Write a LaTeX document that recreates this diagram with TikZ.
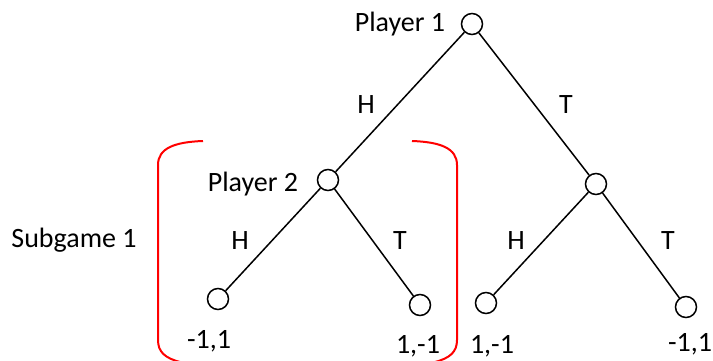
\documentclass[tikz,border=0pt]{standalone}
\usepackage{fontspec}
\setmainfont{Carlito}
\usepackage{tikz}
\usetikzlibrary{positioning}

\begin{document}
\begin{tikzpicture}[x=0.5pt,y=-0.5pt,
  decision/.style={circle,draw,line width=0.75pt,minimum size=10.5pt,inner sep=0pt},
  move/.style={line width=0.75pt},
  txt/.style={inner sep=0pt,anchor=base,font=\fontsize{14}{17}\selectfont},
  bracket/.style={red,line width=1pt}]
\useasboundingbox (0,0) rectangle (713,360);
% tree
\node[decision] (root) at (472,24) {};
\node[decision] (ptwo) at (328,180) {};
\node[decision] (pright) at (596,184) {};
\node[decision] (leafa) at (218,299) {};
\node[decision] (leafb) at (420,305) {};
\node[decision] (leafc) at (486,303) {};
\node[decision] (leafd) at (686,307) {};
\draw[move] (root) -- (ptwo);
\draw[move] (root) -- (pright);
\draw[move] (ptwo) -- (leafa);
\draw[move] (ptwo) -- (leafb);
\draw[move] (pright) -- (leafc);
\draw[move] (pright) -- (leafd);
% labels
\node[txt] (pone lbl) at (400,31) {Player 1};
\node[txt] (ptwo lbl) at (253,191) {Player 2};
\node[txt] (h top) at (366,113) {H};
\node[txt] (t top) at (566,113) {T};
\node[txt] (h left) at (240,249) {H};
\node[txt] (t left) at (400,249) {T};
\node[txt] (h right) at (516,249) {H};
\node[txt] (t right) at (668,249) {T};
\node[txt] (sub lbl) at (74,247) {Subgame 1};
\node[txt] (pay a) at (209,348) {-1,1};
\node[txt] (pay b) at (418,353) {1,-1};
\node[txt] (pay c) at (492,353) {1,-1};
\node[txt] (pay d) at (690,351) {-1,1};
% subgame brackets
\draw[bracket] (203,141) .. controls (175,142) and (158,148) .. (158,165)
  -- (158,340) .. controls (158,352) and (165,358) .. (180,362);
\draw[bracket] (412,141) .. controls (440,142) and (457,148) .. (457,165)
  -- (457,340) .. controls (457,352) and (450,358) .. (435,362);
\end{tikzpicture}
\end{document}
